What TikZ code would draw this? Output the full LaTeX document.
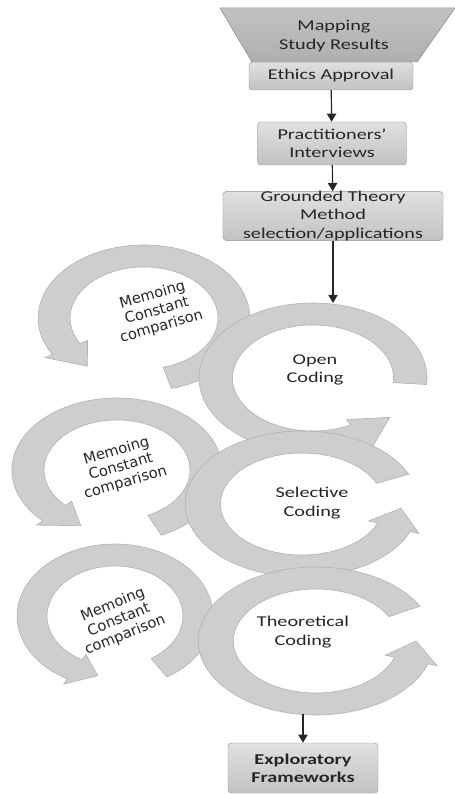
\documentclass[tikz,border=0pt]{standalone}
\usepackage{fontspec}
\setmainfont{Carlito}[FakeStretch=1.35]
\newfontfamily\memofont{DejaVu Sans}
\usepackage{tikz}
\usetikzlibrary{arrows.meta,positioning,calc}

\definecolor{ringgray}{RGB}{206,206,206}
\definecolor{ringedge}{RGB}{176,176,176}
\definecolor{boxtop}{RGB}{224,224,224}
\definecolor{boxbottom}{RGB}{194,194,194}
\definecolor{boxedge}{RGB}{150,150,150}

% circular arrow: centre x, centre y, xscale, radius, start, end, tip angle
\newcommand{\cyclearrow}[7]{%
	\begin{scope}[shift={(#1,#2)},xscale=#3]
		\filldraw[ringpart] ({#5}:{#4+11}) arc[start angle=#5,end angle=#6,radius={#4+11}]
		-- ({#6}:{#4+17}) -- ({#7}:{#4}) -- ({#6}:{#4-17})
		-- ({#6}:{#4-11}) arc[start angle=#6,end angle=#5,radius={#4-11}] -- cycle;
	\end{scope}}

\begin{document}
\begin{tikzpicture}[
			x=0.03cm, y=0.03cm,
			every node/.style={font=\fontsize{12.8}{15.5}\selectfont, text=black!85},
			stagebox/.style={draw=boxedge, top color=boxtop, bottom color=boxbottom,
					rounded corners=3pt, align=center, inner sep=0pt},
			ringpart/.style={fill=ringgray, draw=ringedge, line width=0.5pt},
			ringtext/.style={align=center, inner sep=0pt},
			memotext/.style={align=center, inner sep=0pt,
					font=\memofont\fontsize{12.5}{14}\selectfont},
			flowarrow/.style={-{Triangle[width=8pt,length=7pt]}, line width=1pt, black!85}
		]
		\useasboundingbox (0,0) rectangle (455,-794);

		% top of the flow
		\node[stagebox, minimum width=4.92cm, minimum height=0.84cm] (ethics) at (331,-76) {Ethics Approval};
		\filldraw[draw=boxedge, top color=boxbottom, bottom color=boxbottom!90!black]
		(220,-8) -- (455,-8) -- (417,-62) -- (252,-62) -- cycle;
		\node[align=center] (mapping) at (334,-36) {Mapping\\Study Results};

		\node[stagebox, minimum width=4.47cm, minimum height=1.29cm] (practitioners) at (332,-143.5) {Practitioners’\\Interviews};
		\node[stagebox, minimum width=6.6cm, minimum height=1.44cm] (grounded) at (333,-216) {Grounded Theory\\Method\\selection/applications};

		\draw[flowarrow] (ethics) -- (practitioners);
		\draw[flowarrow] (practitioners) -- (grounded);

		% coding cycles
		\cyclearrow{144}{-318}{1.45}{62}{-75}{210}{231}
		\cyclearrow{313}{-378}{1.52}{64}{-5}{298}{322}
		\cyclearrow{117}{-470}{1.46}{61}{-65}{225}{246}
		\cyclearrow{302}{-504}{1.6}{62}{24}{338}{356}
		\cyclearrow{115}{-616}{1.36}{61}{-58}{241}{258}
		\cyclearrow{316}{-641}{1.59}{63}{28}{342}{360}

		\node[memotext, rotate=16] (memo1) at (157,-311) {Memoing\\Constant\\comparison};
		\node[ringtext] (open) at (315,-370) {Open\\Coding};
		\node[memotext, rotate=16] (memo2) at (121,-467) {Memoing\\Constant\\comparison};
		\node[ringtext] (selective) at (312,-503) {Selective\\Coding};
		\node[memotext, rotate=22] (memo3) at (119,-620) {Memoing\\Constant\\comparison};
		\node[ringtext] (theoretical) at (303,-632) {Theoretical\\Coding};

		\coordinate (opentop) at (333,-303);
		\coordinate (theorybottom) at (303,-714);
		\draw[flowarrow] (grounded) -- (opentop);

		% outcome
		\node[stagebox, minimum width=4.5cm, minimum height=1.5cm, font=\fontsize{12.8}{15.5}\selectfont\bfseries] (explore) at (303,-768) {Exploratory\\Frameworks};
		\draw[flowarrow] (theorybottom) -- (explore);

	\end{tikzpicture}
\end{document}
